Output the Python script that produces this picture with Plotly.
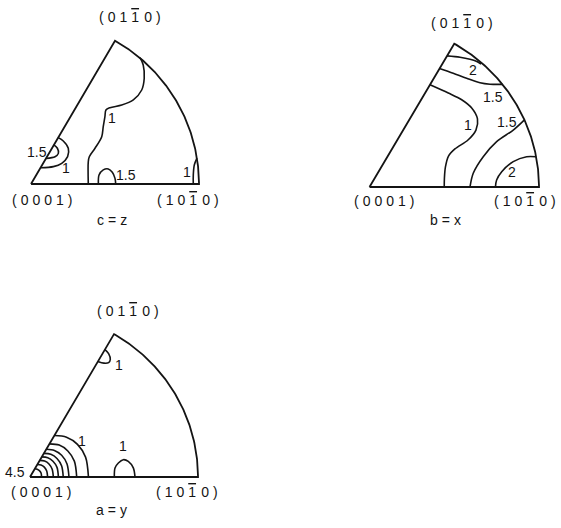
import numpy as np
import plotly.graph_objects as go

# Inverse pole figures of the three specimen axes, drawn in the unit
# stereographic triangle: x runs from (0001) towards (10-10), y upward.

# ---------- c = z ----------
CZ_1_MAIN_X = [0.649, 0.668, 0.674, 0.659, 0.609, 0.540, 0.470, 0.446, 0.440, 0.430, 0.421, 0.381, 0.347, 0.341, 0.341]
CZ_1_MAIN_Y = [0.763, 0.719, 0.639, 0.568, 0.508, 0.477, 0.461, 0.447, 0.407, 0.347, 0.286, 0.216, 0.165, 0.135, 0.0]
CZ_1_LEFT_X = [0.162, 0.192, 0.222, 0.218, 0.183, 0.133, 0.057]
CZ_1_LEFT_Y = [0.280, 0.260, 0.216, 0.165, 0.125, 0.105, 0.098]
CZ_15_LEFT_X = [0.136, 0.157, 0.163, 0.143, 0.090]
CZ_15_LEFT_Y = [0.236, 0.216, 0.185, 0.165, 0.155]
CZ_15_BOTTOM_X = [0.401, 0.405, 0.430, 0.460, 0.484, 0.500, 0.504]
CZ_15_BOTTOM_Y = [0.0, 0.054, 0.085, 0.091, 0.071, 0.034, 0.0]
CZ_1_RIGHT_X = [0.988, 0.972, 0.966, 0.966]
CZ_1_RIGHT_Y = [0.156, 0.115, 0.054, 0.0]

# ---------- b = x ----------
BX_2_TOP_X = [0.457, 0.534, 0.593, 0.630, 0.658]
BX_2_TOP_Y = [0.792, 0.784, 0.772, 0.760, 0.743]
BX_15_TOP_X = [0.413, 0.494, 0.573, 0.652, 0.711, 0.785]
BX_15_TOP_Y = [0.716, 0.687, 0.657, 0.630, 0.621, 0.620]
BX_1_X = [0.357, 0.465, 0.544, 0.603, 0.637, 0.628, 0.581, 0.504, 0.466, 0.448, 0.442, 0.441]
BX_1_Y = [0.618, 0.568, 0.527, 0.477, 0.411, 0.344, 0.284, 0.230, 0.187, 0.121, 0.054, 0.0]
BX_15_LOW_X = [0.914, 0.848, 0.750, 0.671, 0.612, 0.593]
BX_15_LOW_Y = [0.406, 0.344, 0.274, 0.183, 0.083, 0.0]
BX_2_LOW_X = [0.983, 0.927, 0.848, 0.780, 0.750, 0.743]
BX_2_LOW_Y = [0.183, 0.183, 0.153, 0.092, 0.042, 0.0]

# ---------- a = y ----------
AY_1_APEX_X = [0.446, 0.468, 0.478, 0.468, 0.440, 0.404]
AY_1_APEX_Y = [0.772, 0.748, 0.712, 0.693, 0.690, 0.700]
AY_1_BOTTOM_X = [0.502, 0.506, 0.526, 0.555, 0.585, 0.615, 0.625]
AY_1_BOTTOM_Y = [0.0, 0.055, 0.085, 0.105, 0.095, 0.055, 0.0]
# nested contours around (0001): polar radius at each angle (degrees)
AY_RING_ANGLES = [0, 20, 35, 48, 60]
AY_RING_LEVELS = [1.0, 1.5, 2.0, 2.5, 3.0, 3.5, 4.0, 4.5]
AY_RING_RADII = [
    [0.348, 0.352, 0.345, 0.325, 0.290],
    [0.278, 0.281, 0.275, 0.260, 0.232],
    [0.232, 0.234, 0.230, 0.217, 0.194],
    [0.198, 0.200, 0.196, 0.185, 0.165],
    [0.169, 0.171, 0.167, 0.158, 0.141],
    [0.139, 0.140, 0.138, 0.130, 0.116],
    [0.105, 0.106, 0.104, 0.098, 0.088],
    [0.069, 0.070, 0.068, 0.064, 0.058],
]

W, H = 561, 528
INK = "#141414"
FONT = "Liberation Sans"

# pixel origin of each triangle's (0001) corner and pixels per unit
PANELS = [
    dict(ref="", origin=(31, 184), sx=168.0, sy=165.5),
    dict(ref="2", origin=(369.5, 187), sx=169.5, sy=165.5),
    dict(ref="3", origin=(30, 477), sx=168.0, sy=165.0),
]

fig = go.Figure()

layout_axes = {}
for p in PANELS:
    ox, oy = p["origin"]
    xr = [-ox / p["sx"], (W - ox) / p["sx"]]
    yr = [-(H - oy) / p["sy"], oy / p["sy"]]
    r = p["ref"]
    layout_axes["xaxis" + r] = dict(domain=[0, 1], range=xr, visible=False,
                                    fixedrange=True, anchor="y" + r)
    layout_axes["yaxis" + r] = dict(domain=[0, 1], range=yr, visible=False,
                                    fixedrange=True, anchor="x" + r)


def add_line(x, y, ref, width=1.6, spline=True):
    fig.add_trace(go.Scatter(
        x=x, y=y, mode="lines", xaxis="x" + ref, yaxis="y" + ref,
        line=dict(color=INK, width=width,
                  shape="spline" if spline else "linear", smoothing=0.9),
        hoverinfo="skip", showlegend=False))


# triangle outline: (0001) -> (10-10) -> arc -> (01-10) -> (0001)
arc_t = np.radians(np.linspace(0, 60, 121))
tri_x = [0.0] + list(np.cos(arc_t)) + [0.0]
tri_y = [0.0] + list(np.sin(arc_t)) + [0.0]
for p in PANELS:
    add_line(tri_x, tri_y, p["ref"], width=1.8, spline=False)

# c = z contours
for cx, cy in [(CZ_1_MAIN_X, CZ_1_MAIN_Y), (CZ_1_LEFT_X, CZ_1_LEFT_Y),
               (CZ_15_LEFT_X, CZ_15_LEFT_Y), (CZ_15_BOTTOM_X, CZ_15_BOTTOM_Y),
               (CZ_1_RIGHT_X, CZ_1_RIGHT_Y)]:
    add_line(cx, cy, "")

# b = x contours
for cx, cy in [(BX_2_TOP_X, BX_2_TOP_Y), (BX_15_TOP_X, BX_15_TOP_Y),
               (BX_1_X, BX_1_Y), (BX_15_LOW_X, BX_15_LOW_Y),
               (BX_2_LOW_X, BX_2_LOW_Y)]:
    add_line(cx, cy, "2")

# a = y contours
for cx, cy in [(AY_1_APEX_X, AY_1_APEX_Y), (AY_1_BOTTOM_X, AY_1_BOTTOM_Y)]:
    add_line(cx, cy, "3")
ang = np.radians(AY_RING_ANGLES)
for radii in AY_RING_RADII:
    rr = np.array(radii)
    add_line(list(rr * np.cos(ang)), list(rr * np.sin(ang)), "3")

annotations = []
SP = 4.0  # letter spacing of the pole captions, px


def spaced(text, extra=""):
    return '<span style="letter-spacing:%.1fpx%s">%s</span>' % (SP, extra, text)


def barred(left, digit, right):
    # Miller-Bravais index with a negative (overlined) third digit; the bar
    # span carries no letter spacing so the line stays over the digit only
    return (spaced(left)
            + '<span style="letter-spacing:0px;text-decoration:overline">%s</span>' % digit
            + spaced("\u200a" + right))


def label(text, x, y, ref, size=14):
    annotations.append(dict(
        text=text, x=x, y=y, xref="x" + ref, yref="y" + ref,
        showarrow=False, xanchor="center", yanchor="middle",
        font=dict(family=FONT, size=size, color=INK)))


POLE_A = barred("(01", "1", "0)")
POLE_B = spaced("(0001)")
POLE_C = barred("(10", "1", "0)")

# pole and axis captions
label(POLE_A, 0.600, 1.009, "")
label(POLE_B, 0.080, -0.097, "")
label(POLE_C, 0.946, -0.097, "")
label(spaced("c=z"), 0.495, -0.218, "")

label(POLE_A, 0.560, 0.993, "2")
label(POLE_B, 0.097, -0.085, "2")
label(POLE_C, 0.932, -0.085, "2")
label(spaced("b=x"), 0.458, -0.199, "2")

label(POLE_A, 0.594, 1.008, "3")
label(POLE_B, 0.080, -0.089, "3")
label(POLE_C, 0.944, -0.089, "3")
label(spaced("a=y"), 0.495, -0.200, "3")

# contour level labels
label("1.5", 0.036, 0.193, "")
label("1", 0.207, 0.095, "")
label("1", 0.484, 0.397, "")
label("1.5", 0.568, 0.054, "")
label("1", 0.927, 0.074, "")

label("2", 0.612, 0.707, "2")
label("1.5", 0.730, 0.546, "2")
label("1", 0.584, 0.372, "2")
label("1.5", 0.811, 0.393, "2")
label("2", 0.839, 0.091, "2")

label("1", 0.532, 0.680, "3")
label("1", 0.308, 0.216, "3")
label("1", 0.552, 0.186, "3")
label("4.5", -0.089, 0.030, "3")

fig.update_layout(
    width=W, height=H,
    margin=dict(l=0, r=0, t=0, b=0),
    paper_bgcolor="white",
    plot_bgcolor="rgba(0,0,0,0)",
    annotations=annotations,
    **layout_axes,
)

fig.write_html("out.html")
